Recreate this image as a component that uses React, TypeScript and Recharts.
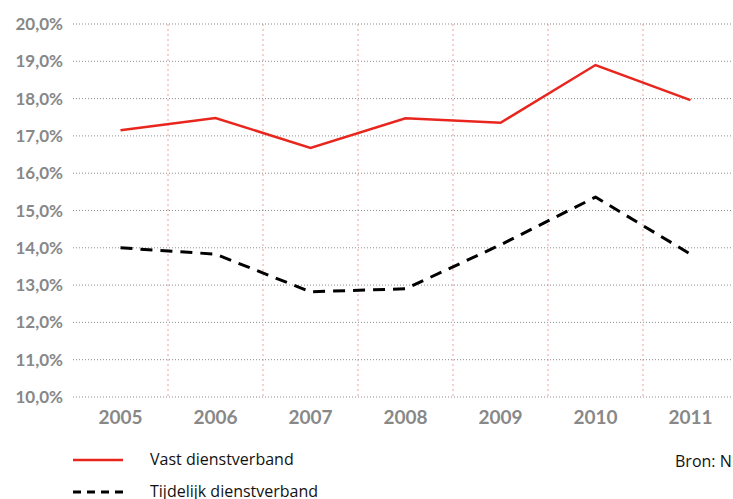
import { LineChart, Line, XAxis, YAxis, CartesianGrid } from 'recharts';

// jaren en waarden (in %)
const years = ['2005', '2006', '2007', '2008', '2009', '2010', '2011'];
const vast = [17.15, 17.48, 16.68, 17.47, 17.35, 18.9, 17.96];
const tijdelijk = [14.0, 13.83, 12.82, 12.9, 14.08, 15.36, 13.83];
const yTicks = [10, 11, 12, 13, 14, 15, 16, 17, 18, 19, 20];

const data = years.map((jaar, i) => ({ jaar, vast: vast[i], tijdelijk: tijdelijk[i] }));

const fmt = (v: number) => v.toFixed(1).replace('.', ',') + '%';

const tickStyle = { fill: '#888', fontFamily: 'Lato', fontWeight: 700 };
const legendText = { position: 'absolute' as const, fontFamily: 'Open Sans', fontWeight: 500, fontSize: 16, color: '#111', whiteSpace: 'nowrap' as const };

export default function App() {
  return (
    <div style={{ position: 'absolute', left: 0, top: 0, width: 733, height: 499, overflow: 'hidden', background: '#fff' }}>
      <LineChart width={745} height={440} data={data} margin={{ top: 24, right: 7, left: 0, bottom: 13 }}>
        <CartesianGrid
          horizontal={false}
          stroke="#f2a0a0"
          strokeDasharray="2 3"
          verticalCoordinatesGenerator={({ offset }: any) =>
            years.slice(1).map((_, i) => offset.left + ((i + 1) * offset.width) / years.length)
          }
        />
        <CartesianGrid vertical={false} stroke="#8c8c8c" strokeDasharray="1 2" />
        <XAxis
          dataKey="jaar"
          scale="band"
          axisLine={false}
          tickLine={false}
          tickMargin={8}
          tick={{ ...tickStyle, fontSize: 19 }}
        />
        <YAxis
          width={73}
          domain={[10, 20]}
          ticks={yTicks}
          tickFormatter={fmt}
          axisLine={false}
          tickLine={false}
          tickMargin={4}
          tick={{ ...tickStyle, fontSize: 17 }}
        />
        <Line
          type="linear"
          dataKey="vast"
          stroke="#e8261e"
          strokeWidth={2.5}
          dot={false}
          isAnimationActive={false}
        />
        <Line
          type="linear"
          dataKey="tijdelijk"
          stroke="#000"
          strokeWidth={3}
          strokeDasharray="12 8"
          strokeLinejoin="round"
          dot={false}
          isAnimationActive={false}
        />
      </LineChart>
      <svg style={{ position: 'absolute', left: 0, top: 440 }} width={140} height={59}>
        <line x1={73} x2={123} y1={20} y2={20} stroke="#e8261e" strokeWidth={2.5} />
        <line x1={73} x2={123} y1={52} y2={52} stroke="#000" strokeWidth={3} strokeDasharray="8 6" />
      </svg>
      <div style={{ ...legendText, left: 150, top: 448 }}>Vast dienstverband</div>
      <div style={{ ...legendText, left: 150, top: 480 }}>Tijdelijk dienstverband</div>
      <div style={{ ...legendText, left: 675, top: 450, fontWeight: 400 }}>Bron: NIDI</div>
    </div>
  );
}
